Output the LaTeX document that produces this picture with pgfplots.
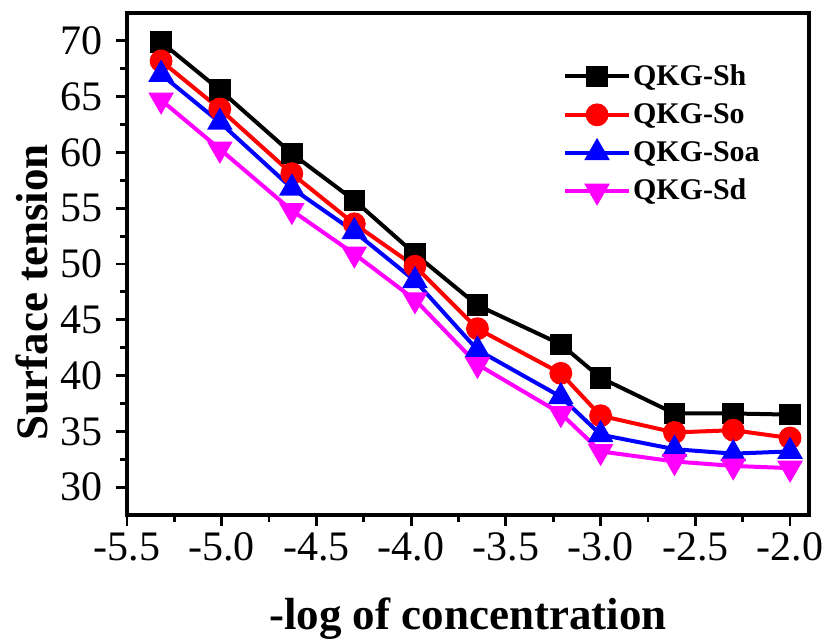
\documentclass[border=0pt]{standalone}
\usepackage{pgfplots}
\pgfplotsset{compat=1.18}
\usepackage{fontspec}
\setmainfont{Liberation Serif}
\definecolor{cBlack}{RGB}{0,0,0}
\definecolor{cRed}{RGB}{255,0,0}
\definecolor{cBlue}{RGB}{0,0,255}
\definecolor{cMag}{RGB}{255,0,255}
\begin{document}
\begin{tikzpicture}
\begin{axis}[
  at={(0,0)}, anchor=south west,
  scale only axis, width=341pt, height=251pt,
  xmin=-5.5, xmax=-1.9, ymin=27.5, ymax=72.5,
  xtick={-5.5,-5,-4.5,-4,-3.5,-3,-2.5,-2},
  ytick={30,35,40,45,50,55,60,65,70},
  minor x tick num=1, minor y tick num=1,
  tick align=outside, xtick pos=bottom, ytick pos=left,
  major tick length=5.5pt, minor tick length=3.5pt,
  every tick/.style={line width=1.4pt, black},
  axis line style={line width=1.6pt},
  /pgf/number format/assume math mode=true,
  tick label style={font=\fontsize{21}{23}\selectfont},
  yticklabel style={xshift=-3pt},
  xticklabel style={/pgf/number format/fixed, /pgf/number format/fixed zerofill, /pgf/number format/precision=1},
  xlabel={\textbf{-log of concentration}},
  ylabel={\textbf{Surface tension}},
  label style={font=\fontsize{22.5}{24}\selectfont},
  xlabel style={at={(axis description cs:0.5,-0.229)}, anchor=base},
  ylabel style={at={(axis description cs:-0.14,0.444)}, anchor=center},
  legend cell align=left,
  legend style={draw=none, fill=none, font=\fontsize{15}{17}\selectfont\bfseries,
    at={(axis description cs:0.63,0.91)}, anchor=north west, row sep=5.5pt,
    nodes={inner sep=1pt}},
  legend image code/.code={\draw[mark repeat=2,mark phase=2] plot coordinates {(0pt,0pt)(16pt,0pt)(32pt,0pt)};},
  every axis plot/.append style={line width=2pt},
]
\addplot[cBlack, mark=square*, mark size=4.4pt, mark options={solid}] coordinates {
(-5.32,69.9)(-5.01,65.6)(-4.63,59.9)(-4.30,55.7)(-3.98,50.9)(-3.65,46.3)(-3.21,42.8)(-3.0,39.8)(-2.61,36.6)(-2.30,36.6)(-2.0,36.5)};
\addlegendentry{QKG-Sh}
\addplot[cRed, mark=*, mark size=4.7pt] coordinates {
(-5.32,68.2)(-5.01,63.9)(-4.63,58.1)(-4.30,53.6)(-3.98,49.8)(-3.65,44.2)(-3.21,40.2)(-3.0,36.4)(-2.61,34.9)(-2.30,35.1)(-2.0,34.4)};
\addlegendentry{QKG-So}
\addplot[cBlue, mark=triangle*, mark size=5.4pt] coordinates {
(-5.32,67.0)(-5.01,62.7)(-4.63,56.8)(-4.30,52.9)(-3.98,48.5)(-3.65,42.3)(-3.21,38.1)(-3.0,34.7)(-2.61,33.4)(-2.30,33.0)(-2.0,33.2)};
\addlegendentry{QKG-Soa}
\addplot[cMag, mark=triangle*, mark size=5.4pt, mark options={rotate=180}] coordinates {
(-5.32,64.7)(-5.01,60.3)(-4.63,54.8)(-4.30,50.9)(-3.98,46.8)(-3.65,41.0)(-3.21,36.6)(-3.0,33.2)(-2.61,32.3)(-2.30,31.9)(-2.0,31.7)};
\addlegendentry{QKG-Sd}
\end{axis}
\pgfresetboundingbox
\path[use as bounding box] (-63.5pt,-64pt) rectangle (350pt,257.5pt);
\end{tikzpicture}
\end{document}
